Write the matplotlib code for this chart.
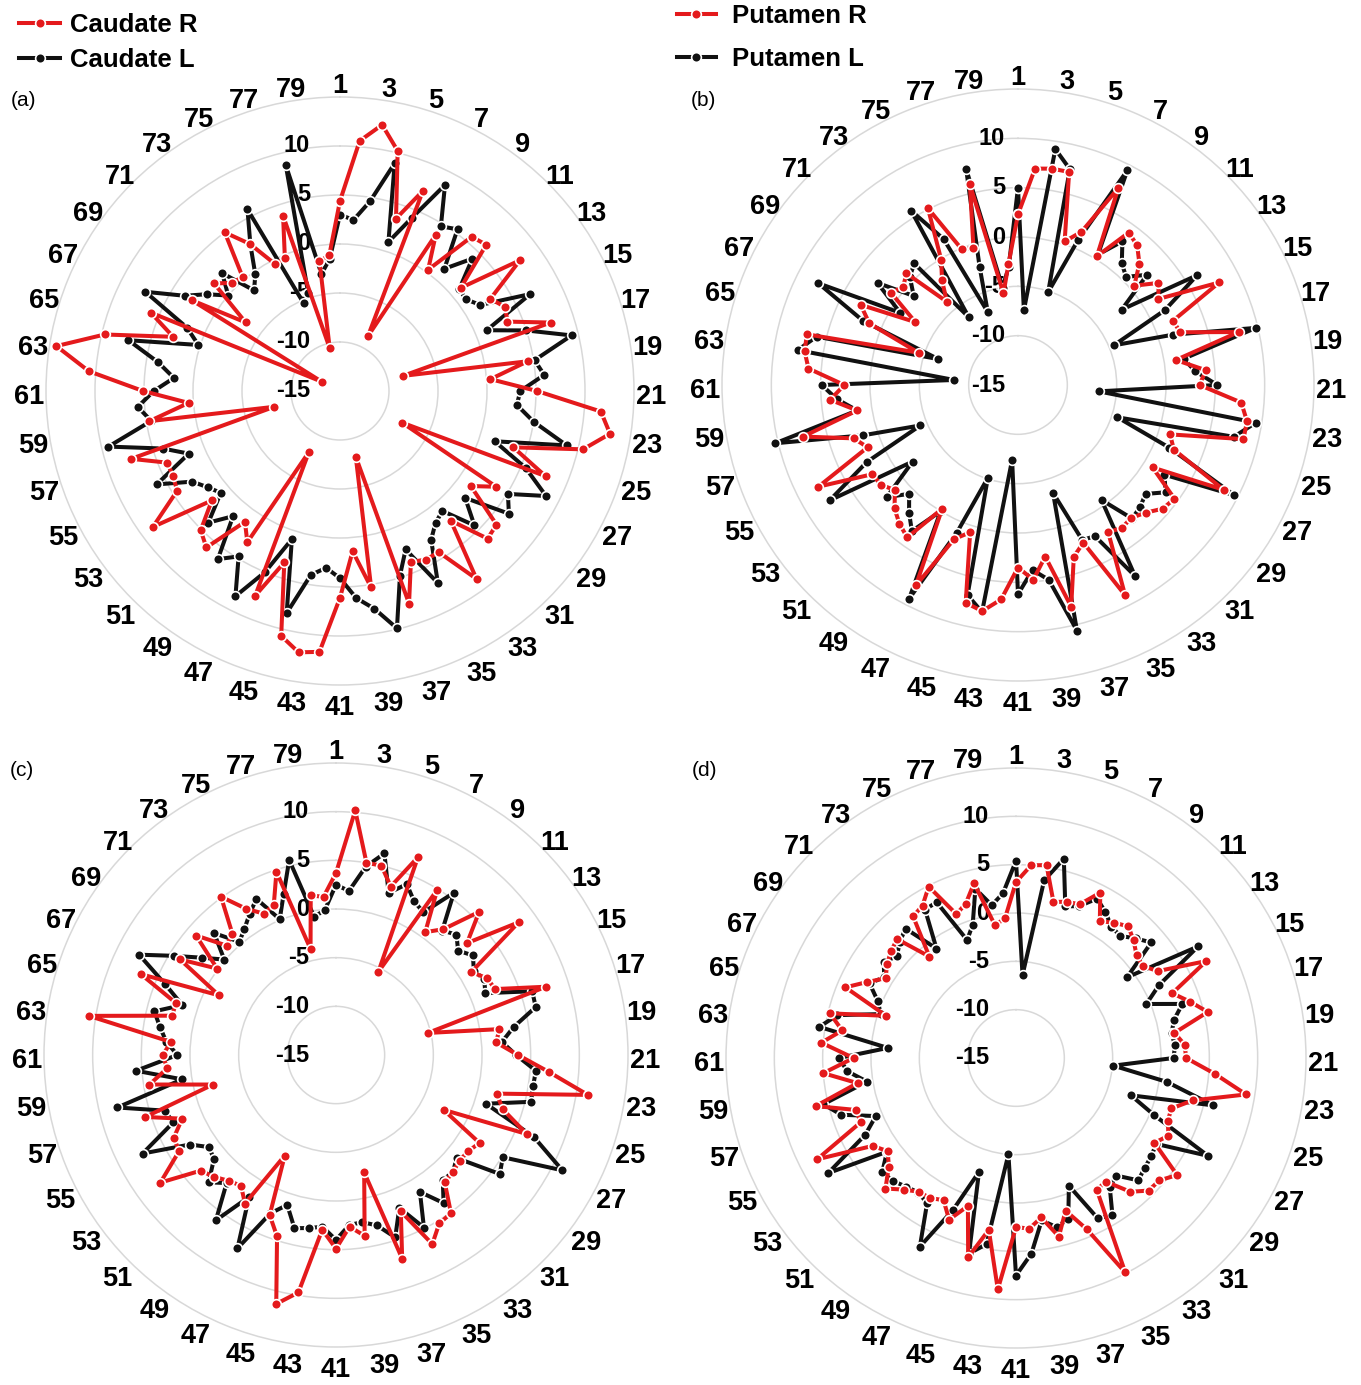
import numpy as np
import matplotlib.pyplot as plt

plt.rcParams['font.family'] = ['Liberation Sans', 'DejaVu Sans']

# 80 positions around the circle, odd ones labelled
positions = list(range(1, 81))
tick_labels = [str(i) for i in range(1, 80, 2)]
r_ticks = [-15, -10, -5, 0, 5, 10]

# (a) caudate
caudate_r = [4.4, 10.6, 12.5, 10.2, 3.5, 7.1, -8.7, 3.7, 0.3, 5.7,
             6.1, 1.2, 7.7, 3.0, 3.9, 3.5, 7.6, -8.4, 4.4, 0.4,
             5.1, 11.7, 12.9, 10.5, 3.6, 7.7, -7.9, 3.7, 1.5, 6.0,
             6.3, 2.4, 8.7, 4.3, 4.3, 3.9, 7.8, -8.1, 5.3, 1.4,
             6.1, 11.7, 12.0, 10.7, 3.4, 7.6, -8.0, 3.1, 1.5, 6.0,
             5.1, 2.2, 8.6, 4.5, 4.1, 4.1, 7.4, -8.1, 4.7, 0.5,
             5.1, 10.7, 14.3, 9.7, 2.9, 5.9, -12.9, 2.7, -3.1, 1.9,
             0.6, 0.3, 5.0, 2.6, -0.5, -0.3, 3.8, -10.5, -1.6, -1.1]
caudate_l = [3.0, 2.5, 4.6, 8.9, 1.0, 4.1, 8.6, 4.7, 5.4, 1.4,
             4.1, 1.0, 0.9, 1.8, 6.8, 1.2, 5.0, 9.3, 5.1, 5.9,
             3.4, 3.1, 5.0, 8.8, 1.6, 5.5, 8.6, 5.1, 6.3, 1.8,
             4.4, 1.1, 1.6, 2.8, 7.0, 2.5, 4.8, 9.9, 7.5, 6.2,
             4.1, 3.1, 4.0, 8.3, 0.9, 5.0, 8.5, 4.8, 6.2, 1.8,
             4.0, 1.0, 1.7, 2.7, 6.0, 1.7, 4.0, 9.3, 4.5, 5.7,
             4.0, 2.0, 3.8, 7.2, 0.2, 1.9, 7.3, 3.6, 1.8, 0.0,
             2.0, -1.5, -0.3, 2.5, 5.8, -5.3, -4.5, 8.7, -2.9, -1.5]

# (b) putamen
putamen_r = [2.3, 7.0, 7.2, 7.2, 0.3, 1.8, 7.4, 0.3, 4.1, 3.6,
             2.4, 0.5, 2.6, 1.7, 7.9, 2.0, 2.3, 8.0, 1.2, 4.1,
             3.4, 7.7, 8.5, 8.5, 1.2, 2.1, 8.4, 1.0, 4.6, 4.3,
             3.3, 2.7, 2.9, 2.5, 8.9, 2.3, 3.3, 8.1, 2.6, 4.8,
             3.5, 6.8, 8.2, 7.7, 0.7, 1.9, 7.8, -0.3, 4.1, 3.5,
             2.7, 1.4, 2.2, 2.3, 7.7, 1.5, 2.5, 7.4, 1.5, 4.1,
             2.6, 6.3, 6.9, 7.0, -4.4, 1.3, 2.9, -2.8, 0.9, 0.3,
             1.0, -3.9, -1.9, -0.1, 5.1, -0.1, -0.4, 5.9, -5.6, -2.7]
putamen_l = [5.0, -7.4, 9.2, 7.5, -5.1, 0.9, 9.4, 0.5, 3.0, 1.2,
             0.5, 2.2, -2.0, 6.3, 1.7, -4.5, 1.5, 9.8, 2.0, 3.0,
             5.2, -6.8, 9.4, 7.5, -4.4, 1.6, 9.6, 2.4, 3.5, 2.0,
             2.5, 2.8, -0.6, 7.7, 2.2, 2.0, -3.5, 10.6, 5.0, 3.8,
             6.2, -7.4, 8.3, 6.9, -5.1, 1.2, 9.3, 0.0, 3.3, 2.0,
             0.6, 2.5, -1.8, 7.4, 2.2, -4.3, 1.5, 10.3, 1.5, 3.4,
             4.9, -8.5, 7.6, 6.0, -6.5, 2.0, 7.7, -1.0, 2.6, -1.1,
             0.5, 1.2, -6.5, 5.7, 1.6, -7.0, -2.4, 7.5, -5.0, -3.0]

# (c) caudate, second set
caudate_r2 = [3.7, 10.2, 5.0, 5.0, 3.2, 7.0, -5.4, 4.9, 0.6, 2.0,
              5.8, 2.7, 8.2, 1.3, 2.4, 2.7, 7.7, -5.3, 2.0, 1.5,
              3.7, 6.9, 11.2, 2.0, 3.0, 6.2, -2.6, 2.3, 1.8, 1.7,
              2.0, 2.2, 5.1, 5.3, 6.8, 2.4, 7.0, -2.6, 3.8, 2.7,
              4.9, 3.0, 9.7, 11.3, 4.6, 2.8, -3.4, 2.9, 1.6, 2.0,
              2.7, 3.3, 7.3, 3.9, 3.7, 2.1, 5.6, -2.0, 4.4, 2.4,
              2.8, 2.0, 10.7, 2.3, 2.3, 6.7, -1.5, 3.8, 0.1, 3.9,
              0.9, 1.4, 5.1, 2.6, 1.3, 1.7, 4.8, -3.8, 1.6, 1.3]
caudate_l2 = [2.5, 1.9, 4.6, 6.3, 2.5, 4.0, 2.7, 2.2, 5.6, 1.8,
              2.5, 1.5, 2.4, 1.6, 2.1, 1.6, 6.2, 6.1, 3.5, 2.1,
              3.5, 5.6, 5.5, 5.6, 1.2, 7.0, 11.1, 5.1, 5.8, 1.3,
              2.0, 1.9, 3.8, 1.5, 4.9, 2.0, 4.7, 3.0, 2.4, 2.5,
              4.0, 2.7, 3.0, 3.3, 1.2, 2.6, 7.3, 2.1, 6.0, 2.3,
              3.5, 1.5, 1.1, 2.6, 7.3, 3.1, 3.5, 8.1, 1.0, 5.6,
              1.3, 2.5, 3.3, 4.2, 1.6, 4.0, 7.7, 4.5, 2.0, 0.1,
              2.7, 0.3, 1.0, 2.0, 3.0, 0.1, 2.4, 5.6, -0.6, -0.1]

# (d) putamen, second set
putamen_r2 = [3.2, 5.0, 5.2, 1.6, 2.0, 2.2, 4.2, 1.6, 2.3, 2.9,
              2.2, 1.4, 1.2, 2.2, 7.1, 2.5, 3.9, 5.4, 1.6, 2.5,
              2.6, 5.6, 9.1, 3.8, 1.9, 2.0, 2.7, 1.8, 5.6, 4.5,
              4.4, 3.2, 0.8, 1.0, 9.9, 4.2, 1.6, 4.0, 1.7, 2.7,
              2.5, 9.0, 3.0, 6.2, 1.1, 3.1, 1.5, 2.0, 2.1, 2.9,
              4.1, 2.3, 1.4, 2.4, 8.1, 2.4, 2.4, 6.3, 1.6, 5.0,
              1.8, 5.2, 3.2, 4.8, -0.9, 4.1, 2.3, 0.8, 1.5, 2.0,
              2.4, -1.2, 3.1, 3.5, 4.9, 1.1, 1.8, 3.6, -1.1, -0.5]
putamen_l2 = [5.4, -6.4, 3.6, 6.2, 1.5, 2.0, 3.5, 2.7, 1.8, 1.6,
              2.5, 3.4, -0.8, 7.1, 1.6, -0.4, 3.1, 1.8, 1.3, 1.5,
              1.3, -4.9, 0.8, 6.0, -2.5, 0.5, 7.3, 2.0, 2.3, 2.5,
              2.9, 1.0, 1.5, 4.1, 3.6, -0.7, 2.5, 3.0, 2.0, 5.3,
              7.5, -5.0, 4.5, 5.8, -2.6, 2.0, 6.9, 2.6, 2.2, 2.5,
              3.0, 3.2, 1.5, 7.8, 2.5, 0.7, 4.0, 5.5, 0.6, 2.5,
              3.3, -1.7, 5.6, 4.0, -0.3, 0.5, 2.0, 1.0, 1.9, 1.2,
              2.0, 2.6, -1.0, 3.0, 3.1, -1.8, -0.5, 3.0, 1.0, 2.1]

RED = '#e41a1c'
BLACK = '#111111'
GRID = '#d8d8d8'

W, H = 1361, 1385
fig = plt.figure(figsize=(W / 100, H / 100), dpi=100)


def polar_panel(cx, cy, rad, right, left, tag, tag_xy, label_dx):
    rect = [(cx - rad) / W, 1 - (cy + rad) / H, 2 * rad / W, 2 * rad / H]
    ax = fig.add_axes(rect, projection='polar')
    ax.set_theta_zero_location('N')
    ax.set_theta_direction(-1)
    theta = np.deg2rad((np.array(positions) - 1) * 360.0 / len(positions))
    th = np.append(theta, theta[0])
    style = dict(lw=2.9, marker='o', ms=7, mec='white', mew=1.2)
    l_line, = ax.plot(th, np.append(left, left[0]), color=BLACK, mfc=BLACK,
                      zorder=3, **style)
    r_line, = ax.plot(th, np.append(right, right[0]), color=RED, mfc=RED,
                      zorder=4, **style)
    ax.set_ylim(-15, 15)
    ax.set_yticks([-10, -5, 0, 5, 10])
    ax.set_yticklabels([])
    ax.set_xticks(theta[::2])
    ax.set_xticklabels([])
    ax.tick_params(axis='both', length=0)
    ax.xaxis.grid(False)
    ax.yaxis.grid(True, color=GRID, lw=1.1)
    ax.spines['polar'].set_color(GRID)
    ax.spines['polar'].set_linewidth(1.1)
    # angular labels: centred on a ring just outside the outer circle
    for t, lab in zip(theta[::2], tick_labels):
        ax.annotate(lab, xy=(t, 15), xytext=(17 * np.sin(t), 17 * np.cos(t) - 6),
                    textcoords='offset pixels', ha='center', va='center',
                    fontsize=19.5, fontweight='bold', annotation_clip=False)
    for v in r_ticks:
        ax.annotate(str(v), xy=(0, v), xytext=(label_dx, 0),
                    textcoords='offset pixels', ha='right', va='center',
                    fontsize=17, fontweight='bold', zorder=2)
    fig.text(tag_xy[0] / W, 1 - tag_xy[1] / H, tag, fontsize=15,
             ha='left', va='center')
    return r_line, l_line


ha, la = polar_panel(340, 391, 294, caudate_r, caudate_l, '(a)', (11, 100), -30)
hb, lb = polar_panel(1018, 385, 296, putamen_r, putamen_l, '(b)', (691, 100), -13)
polar_panel(336, 1055, 292, caudate_r2, caudate_l2, '(c)', (10, 770), -27)
polar_panel(1016, 1058, 290, putamen_r2, putamen_l2, '(d)', (692, 770), -27)

fig.legend([ha, la], ['Caudate R', 'Caudate L'], loc='upper left',
           bbox_to_anchor=(19 / W, 1 - 13 / H), frameon=False,
           prop={'weight': 'bold', 'size': 18.5}, handlelength=1.6,
           handletextpad=0.4, labelspacing=0.42, borderpad=0, borderaxespad=0)
fig.legend([hb, lb], ['Putamen R', 'Putamen L'], loc='upper left',
           bbox_to_anchor=(677 / W, 1 - 4 / H), frameon=False,
           prop={'weight': 'bold', 'size': 18.5}, handlelength=1.5,
           handletextpad=0.65, labelspacing=0.75, borderpad=0, borderaxespad=0)

fig.savefig('out.png', dpi=100)
